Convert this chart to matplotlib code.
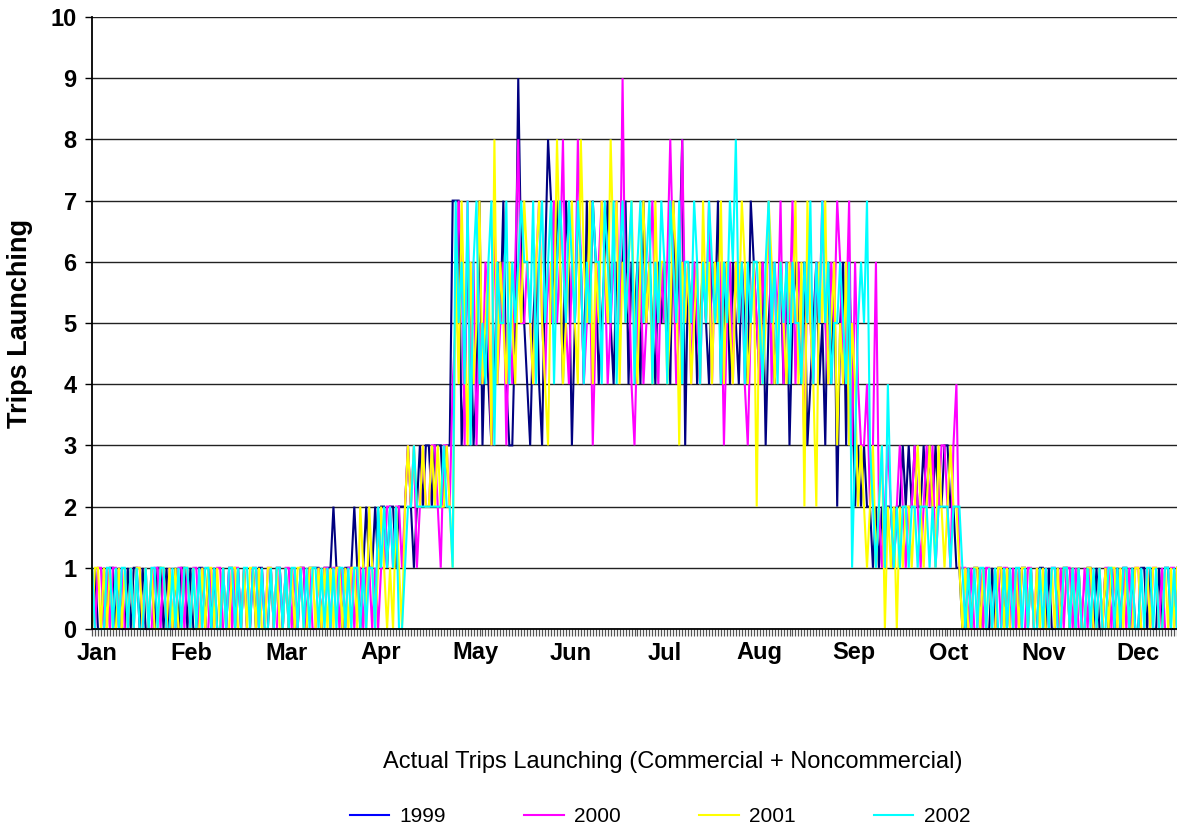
import numpy as np
import matplotlib
matplotlib.use("Agg")
import matplotlib.pyplot as plt
from matplotlib.lines import Line2D

plt.rcParams['font.family'] = ['Liberation Sans', 'DejaVu Sans']

# daily trips launching, one digit per day (groups of 10 days)
trips_1999 = (
    "0100101101 0010110100 1011010010 1101001101 0100101101 0100101100 1011010100 1101111011 "
    "1211011121 0121121221 2212223212 3233233323 37 "
    "7734653473 5434657433 5965435643 6875764763 5764757645 6754656746 5647565465 "
    "6547568365 6456546574 5646546547 6546356456 4635654634 5645364625 6364232 "
    "3221212122 1223232322 3232322332 2110 "
    "0101101001 0110100101 1010011010 0101101010 0110100101 0101101001 1010010110 01"
)
trips_2000 = (
    "0011010110 1001011010 0110101001 1010110100 1011001011 0100110101 1001011010 1101001011 "
    "0110101101 1011010112 2122123231 2322332133 24 "
    "5763746354 6537456354 6855654675 4657568546 5864563567 6456759564 3564567546 "
    "5686458564 6546574656 3564656435 6546574657 4657465365 4657546576 4573643 "
    "3423621232 1232122321 2323123321 3411 "
    "1010010110 0101101010 0110100101 1010110100 1010010110 1001010110 0101101001 10"
)
trips_2001 = (
    "0110101001 0101011010 1001101010 0110100101 1010100110 0101101001 1010010101 1001101010 "
    "1011010110 2102101210 1021023232 2322323223 21 "
    "6475364574 5638465465 4657654675 4365864567 5486574657 6586746567 5467564756 "
    "6457636564 5647564657 4654657645 6264576456 5465746275 4265745635 4635423 "
    "2123123021 2021221232 1232132123 2210 "
    "1001101010 0110100101 1010101001 0101101010 0110010101 1010100110 0101100101 01"
)
trips_2002 = (
    "1000011010 1101010010 1101100101 0110101011 0100101101 0110110100 1011010110 1010110101 "
    "0101101011 0101102121 2120012232 2222222232 21 "
    "7564736745 4673655746 5676657467 5674676576 5764657664 7657467567 4675674657 "
    "6476574665 7646576564 6576856465 6654675646 5646554657 4657564556 5461356 "
    "5732123142 1212212212 2212122221 2221 "
    "0101011010 1001010110 1010010101 1001101010 0101010011 0101101001 0110100110 10"
)

years = ["1999", "2000", "2001", "2002"]
line_colors = ["#000080", "#ff00ff", "#ffff00", "#00ffff"]
legend_colors = ["#0000ff", "#ff00ff", "#ffff00", "#00ffff"]
months = ["Jan", "Feb", "Mar", "Apr", "May", "Jun",
          "Jul", "Aug", "Sep", "Oct", "Nov", "Dec"]


def parse(s):
    return np.array([int(c) for c in s if c.isdigit()])


series = [parse(trips_1999), parse(trips_2000), parse(trips_2001), parse(trips_2002)]
for s in series:
    assert len(s) == 365, len(s)
days = np.arange(365)

fig = plt.figure(figsize=(11.77, 8.34), dpi=100)
ax = fig.add_axes([92 / 1177, 205 / 834, 1 - 92 / 1177, 612 / 834])

for y, c in zip(series, line_colors):
    ax.plot(days, y, color=c, lw=1.5, clip_on=False, solid_joinstyle='miter')

ax.set_xlim(0, 364)
ax.set_ylim(0, 10)
ax.set_yticks(range(0, 11))
ax.yaxis.grid(True, color='#222222', lw=1.0)
ax.set_axisbelow(True)
for side in ['top', 'right']:
    ax.spines[side].set_visible(False)
ax.spines['left'].set_color('black')
ax.spines['bottom'].set_color('black')
ax.spines['left'].set_linewidth(1.3)
ax.spines['bottom'].set_linewidth(1.3)
ax.tick_params(axis='y', length=5, width=1, pad=6, labelsize=17)
for lab in ax.get_yticklabels():
    lab.set_fontweight('bold')

# month labels roughly every 31.75 days, a tick mark for each day
ax.set_xticks(np.arange(12) * 31.75 + 1.7)
ax.set_xticklabels(months, fontsize=17, fontweight='bold')
ax.set_xticks(days, minor=True)
ax.tick_params(axis='x', which='major', length=0, pad=9)
ax.tick_params(axis='x', which='minor', length=5, width=0.9, color='#555555')

fig.text(20 / 1177, 1 - 323 / 834, "Trips Launching", rotation=90,
         ha='center', va='center', fontsize=19.5, fontweight='bold')
fig.text(673 / 1177, 1 - 762 / 834,
         "Actual Trips Launching (Commercial + Noncommercial)",
         ha='center', va='center', fontsize=17)

handles = [Line2D([], [], color=c, lw=1.5) for c in legend_colors]
fig.legend(handles, years, loc='center', bbox_to_anchor=(660 / 1177, 1 - 817 / 834),
           ncol=4, frameon=False, fontsize=15, handlelength=1.9,
           handletextpad=0.5, columnspacing=3.75)

fig.savefig("out.png", dpi=100)
